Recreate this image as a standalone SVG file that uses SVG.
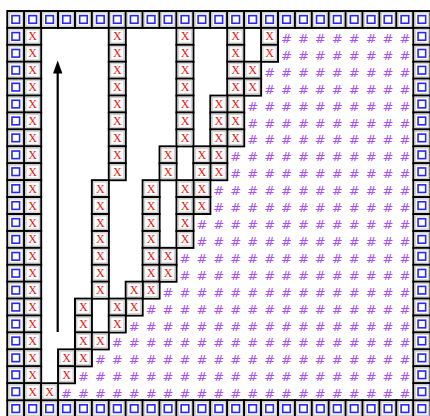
<svg xmlns="http://www.w3.org/2000/svg" width="430" height="416" viewBox="0 0 430 416">
<style>
.cell{fill:#fff;stroke:#000;stroke-width:0.118}
.inner{fill:none;stroke:#d2d2d2;stroke-width:0.089}
.blue{fill:none;stroke:#2626ff;stroke-width:0.095}
.x{font-family:"Liberation Serif","Times New Roman",serif;font-size:12px;fill:#f01010;text-anchor:middle}
.h{font-family:"DejaVu Sans","Liberation Sans",sans-serif;font-size:13px;fill:#a652f2;text-anchor:middle}
.arrow{fill:none;stroke:#000;stroke-width:2.2}
</style>
<defs>
<g id="bc"><rect width="1" height="1" class="cell"/><rect x="0.103" y="0.103" width="0.794" height="0.794" class="inner"/><rect x="0.2755" y="0.2755" width="0.449" height="0.449" class="blue"/></g>
<g id="xc"><rect width="1" height="1" class="cell"/><rect x="0.103" y="0.103" width="0.794" height="0.794" class="inner"/></g>
<marker id="ah" markerUnits="userSpaceOnUse" markerWidth="14" markerHeight="10" refX="6.5" refY="4.7" orient="auto"><path d="M0,0 L13,4.7 L0,9.4 z" fill="#000"/></marker>
</defs>
<rect width="430" height="416" fill="#fff"/>
<g id="frame" transform="translate(7.3 11) scale(16.92)">
<use href="#bc" x="0" y="0"/><use href="#bc" x="1" y="0"/><use href="#bc" x="2" y="0"/><use href="#bc" x="3" y="0"/><use href="#bc" x="4" y="0"/><use href="#bc" x="5" y="0"/><use href="#bc" x="6" y="0"/><use href="#bc" x="7" y="0"/><use href="#bc" x="8" y="0"/><use href="#bc" x="9" y="0"/><use href="#bc" x="10" y="0"/><use href="#bc" x="11" y="0"/><use href="#bc" x="12" y="0"/><use href="#bc" x="13" y="0"/><use href="#bc" x="14" y="0"/><use href="#bc" x="15" y="0"/><use href="#bc" x="16" y="0"/><use href="#bc" x="17" y="0"/><use href="#bc" x="18" y="0"/><use href="#bc" x="19" y="0"/><use href="#bc" x="20" y="0"/><use href="#bc" x="21" y="0"/><use href="#bc" x="22" y="0"/><use href="#bc" x="23" y="0"/><use href="#bc" x="24" y="0"/>
<use href="#bc" x="0" y="23"/><use href="#bc" x="1" y="23"/><use href="#bc" x="2" y="23"/><use href="#bc" x="3" y="23"/><use href="#bc" x="4" y="23"/><use href="#bc" x="5" y="23"/><use href="#bc" x="6" y="23"/><use href="#bc" x="7" y="23"/><use href="#bc" x="8" y="23"/><use href="#bc" x="9" y="23"/><use href="#bc" x="10" y="23"/><use href="#bc" x="11" y="23"/><use href="#bc" x="12" y="23"/><use href="#bc" x="13" y="23"/><use href="#bc" x="14" y="23"/><use href="#bc" x="15" y="23"/><use href="#bc" x="16" y="23"/><use href="#bc" x="17" y="23"/><use href="#bc" x="18" y="23"/><use href="#bc" x="19" y="23"/><use href="#bc" x="20" y="23"/><use href="#bc" x="21" y="23"/><use href="#bc" x="22" y="23"/><use href="#bc" x="23" y="23"/><use href="#bc" x="24" y="23"/>
<use href="#bc" x="0" y="1"/><use href="#bc" x="0" y="2"/><use href="#bc" x="0" y="3"/><use href="#bc" x="0" y="4"/><use href="#bc" x="0" y="5"/><use href="#bc" x="0" y="6"/><use href="#bc" x="0" y="7"/><use href="#bc" x="0" y="8"/><use href="#bc" x="0" y="9"/><use href="#bc" x="0" y="10"/><use href="#bc" x="0" y="11"/><use href="#bc" x="0" y="12"/><use href="#bc" x="0" y="13"/><use href="#bc" x="0" y="14"/><use href="#bc" x="0" y="15"/><use href="#bc" x="0" y="16"/><use href="#bc" x="0" y="17"/><use href="#bc" x="0" y="18"/><use href="#bc" x="0" y="19"/><use href="#bc" x="0" y="20"/><use href="#bc" x="0" y="21"/><use href="#bc" x="0" y="22"/>
<use href="#bc" x="24" y="1"/><use href="#bc" x="24" y="2"/><use href="#bc" x="24" y="3"/><use href="#bc" x="24" y="4"/><use href="#bc" x="24" y="5"/><use href="#bc" x="24" y="6"/><use href="#bc" x="24" y="7"/><use href="#bc" x="24" y="8"/><use href="#bc" x="24" y="9"/><use href="#bc" x="24" y="10"/><use href="#bc" x="24" y="11"/><use href="#bc" x="24" y="12"/><use href="#bc" x="24" y="13"/><use href="#bc" x="24" y="14"/><use href="#bc" x="24" y="15"/><use href="#bc" x="24" y="16"/><use href="#bc" x="24" y="17"/><use href="#bc" x="24" y="18"/><use href="#bc" x="24" y="19"/><use href="#bc" x="24" y="20"/><use href="#bc" x="24" y="21"/><use href="#bc" x="24" y="22"/>
</g>
<g id="x-cells" transform="translate(7.3 11) scale(16.92)">
<use href="#xc" x="1" y="1"/><use href="#xc" x="1" y="2"/><use href="#xc" x="1" y="3"/><use href="#xc" x="1" y="4"/><use href="#xc" x="1" y="5"/><use href="#xc" x="1" y="6"/><use href="#xc" x="1" y="7"/><use href="#xc" x="1" y="8"/><use href="#xc" x="1" y="9"/><use href="#xc" x="1" y="10"/><use href="#xc" x="1" y="11"/><use href="#xc" x="1" y="12"/><use href="#xc" x="1" y="13"/><use href="#xc" x="1" y="14"/><use href="#xc" x="1" y="15"/><use href="#xc" x="1" y="16"/><use href="#xc" x="1" y="17"/><use href="#xc" x="1" y="18"/><use href="#xc" x="1" y="19"/><use href="#xc" x="1" y="20"/><use href="#xc" x="1" y="21"/><use href="#xc" x="1" y="22"/><use href="#xc" x="2" y="22"/>
<use href="#xc" x="6" y="1"/><use href="#xc" x="6" y="2"/><use href="#xc" x="6" y="3"/><use href="#xc" x="6" y="4"/><use href="#xc" x="6" y="5"/><use href="#xc" x="6" y="6"/><use href="#xc" x="6" y="7"/><use href="#xc" x="6" y="8"/><use href="#xc" x="6" y="9"/>
<use href="#xc" x="5" y="10"/><use href="#xc" x="5" y="11"/><use href="#xc" x="5" y="12"/><use href="#xc" x="5" y="13"/><use href="#xc" x="5" y="14"/><use href="#xc" x="5" y="15"/><use href="#xc" x="5" y="16"/>
<use href="#xc" x="4" y="17"/><use href="#xc" x="4" y="18"/><use href="#xc" x="4" y="19"/><use href="#xc" x="4" y="20"/><use href="#xc" x="5" y="19"/><use href="#xc" x="3" y="20"/><use href="#xc" x="3" y="21"/>
<use href="#xc" x="10" y="1"/><use href="#xc" x="10" y="2"/><use href="#xc" x="10" y="3"/><use href="#xc" x="10" y="4"/><use href="#xc" x="10" y="5"/><use href="#xc" x="10" y="6"/><use href="#xc" x="10" y="7"/>
<use href="#xc" x="9" y="8"/><use href="#xc" x="9" y="9"/>
<use href="#xc" x="8" y="10"/><use href="#xc" x="8" y="11"/><use href="#xc" x="8" y="12"/><use href="#xc" x="8" y="13"/><use href="#xc" x="8" y="14"/><use href="#xc" x="8" y="15"/><use href="#xc" x="8" y="16"/>
<use href="#xc" x="7" y="16"/><use href="#xc" x="7" y="17"/><use href="#xc" x="6" y="17"/><use href="#xc" x="6" y="18"/>
<use href="#xc" x="13" y="1"/><use href="#xc" x="13" y="2"/><use href="#xc" x="13" y="3"/><use href="#xc" x="13" y="4"/><use href="#xc" x="13" y="5"/><use href="#xc" x="13" y="6"/><use href="#xc" x="13" y="7"/>
<use href="#xc" x="12" y="5"/><use href="#xc" x="12" y="6"/><use href="#xc" x="12" y="7"/><use href="#xc" x="12" y="8"/><use href="#xc" x="12" y="9"/>
<use href="#xc" x="11" y="8"/><use href="#xc" x="11" y="9"/><use href="#xc" x="11" y="10"/><use href="#xc" x="11" y="11"/>
<use href="#xc" x="10" y="10"/><use href="#xc" x="10" y="11"/><use href="#xc" x="10" y="12"/><use href="#xc" x="10" y="13"/>
<use href="#xc" x="9" y="14"/><use href="#xc" x="9" y="15"/>
<use href="#xc" x="15" y="1"/><use href="#xc" x="15" y="2"/><use href="#xc" x="14" y="3"/><use href="#xc" x="14" y="4"/>
</g>
<g id="x-labels" class="x">
<text x="32.7 117.3 185.0 235.7 269.6" y="40.4">XXXXX</text>
<text x="32.7 117.3 185.0 235.7 269.6" y="57.3">XXXXX</text>
<text x="32.7 117.3 185.0 235.7 252.6" y="74.2">XXXXX</text>
<text x="32.7 117.3 185.0 235.7 252.6" y="91.1">XXXXX</text>
<text x="32.7 117.3 185.0 218.8 235.7" y="108.1">XXXXX</text>
<text x="32.7 117.3 185.0 218.8 235.7" y="125.0">XXXXX</text>
<text x="32.7 117.3 185.0 218.8 235.7" y="141.9">XXXXX</text>
<text x="32.7 117.3 168.0 201.9 218.8" y="158.8">XXXXX</text>
<text x="32.7 117.3 168.0 201.9 218.8" y="175.7">XXXXX</text>
<text x="32.7 100.4 151.1 185.0 201.9" y="192.7">XXXXX</text>
<text x="32.7 100.4 151.1 185.0 201.9" y="209.6">XXXXX</text>
<text x="32.7 100.4 151.1 185.0" y="226.5">XXXX</text>
<text x="32.7 100.4 151.1 185.0" y="243.4">XXXX</text>
<text x="32.7 100.4 151.1 168.0" y="260.3">XXXX</text>
<text x="32.7 100.4 151.1 168.0" y="277.3">XXXX</text>
<text x="32.7 100.4 134.2 151.1" y="294.2">XXXX</text>
<text x="32.7 83.4 117.3 134.2" y="311.1">XXXX</text>
<text x="32.7 83.4 117.3" y="328.0">XXX</text>
<text x="32.7 83.4 100.4" y="344.9">XXX</text>
<text x="32.7 66.5 83.4" y="361.9">XXX</text>
<text x="32.7 66.5" y="378.8">XX</text>
<text x="32.7 49.6" y="395.7">XX</text>
</g>
<g id="hash-region" class="h">
<text x="286.5 303.4 320.3 337.2 354.2 371.1 388.0 404.9" y="42.9">########</text>
<text x="286.5 303.4 320.3 337.2 354.2 371.1 388.0 404.9" y="59.8">########</text>
<text x="269.6 286.5 303.4 320.3 337.2 354.2 371.1 388.0 404.9" y="76.7">#########</text>
<text x="269.6 286.5 303.4 320.3 337.2 354.2 371.1 388.0 404.9" y="93.6">#########</text>
<text x="252.6 269.6 286.5 303.4 320.3 337.2 354.2 371.1 388.0 404.9" y="110.6">##########</text>
<text x="252.6 269.6 286.5 303.4 320.3 337.2 354.2 371.1 388.0 404.9" y="127.5">##########</text>
<text x="252.6 269.6 286.5 303.4 320.3 337.2 354.2 371.1 388.0 404.9" y="144.4">##########</text>
<text x="235.7 252.6 269.6 286.5 303.4 320.3 337.2 354.2 371.1 388.0 404.9" y="161.3">###########</text>
<text x="235.7 252.6 269.6 286.5 303.4 320.3 337.2 354.2 371.1 388.0 404.9" y="178.2">###########</text>
<text x="218.8 235.7 252.6 269.6 286.5 303.4 320.3 337.2 354.2 371.1 388.0 404.9" y="195.2">############</text>
<text x="218.8 235.7 252.6 269.6 286.5 303.4 320.3 337.2 354.2 371.1 388.0 404.9" y="212.1">############</text>
<text x="201.9 218.8 235.7 252.6 269.6 286.5 303.4 320.3 337.2 354.2 371.1 388.0 404.9" y="229.0">#############</text>
<text x="201.9 218.8 235.7 252.6 269.6 286.5 303.4 320.3 337.2 354.2 371.1 388.0 404.9" y="245.9">#############</text>
<text x="185.0 201.9 218.8 235.7 252.6 269.6 286.5 303.4 320.3 337.2 354.2 371.1 388.0 404.9" y="262.8">##############</text>
<text x="185.0 201.9 218.8 235.7 252.6 269.6 286.5 303.4 320.3 337.2 354.2 371.1 388.0 404.9" y="279.8">##############</text>
<text x="168.0 185.0 201.9 218.8 235.7 252.6 269.6 286.5 303.4 320.3 337.2 354.2 371.1 388.0 404.9" y="296.7">###############</text>
<text x="151.1 168.0 185.0 201.9 218.8 235.7 252.6 269.6 286.5 303.4 320.3 337.2 354.2 371.1 388.0 404.9" y="313.6">################</text>
<text x="134.2 151.1 168.0 185.0 201.9 218.8 235.7 252.6 269.6 286.5 303.4 320.3 337.2 354.2 371.1 388.0 404.9" y="330.5">#################</text>
<text x="117.3 134.2 151.1 168.0 185.0 201.9 218.8 235.7 252.6 269.6 286.5 303.4 320.3 337.2 354.2 371.1 388.0 404.9" y="347.4">##################</text>
<text x="100.4 117.3 134.2 151.1 168.0 185.0 201.9 218.8 235.7 252.6 269.6 286.5 303.4 320.3 337.2 354.2 371.1 388.0 404.9" y="364.4">###################</text>
<text x="83.4 100.4 117.3 134.2 151.1 168.0 185.0 201.9 218.8 235.7 252.6 269.6 286.5 303.4 320.3 337.2 354.2 371.1 388.0 404.9" y="381.3">####################</text>
<text x="66.5 83.4 100.4 117.3 134.2 151.1 168.0 185.0 201.9 218.8 235.7 252.6 269.6 286.5 303.4 320.3 337.2 354.2 371.1 388.0 404.9" y="398.2">#####################</text>
</g>
<g id="connectors">
<path class="arrow" d="M57.7 332 V67" marker-end="url(#ah)"/>
</g>
</svg>
